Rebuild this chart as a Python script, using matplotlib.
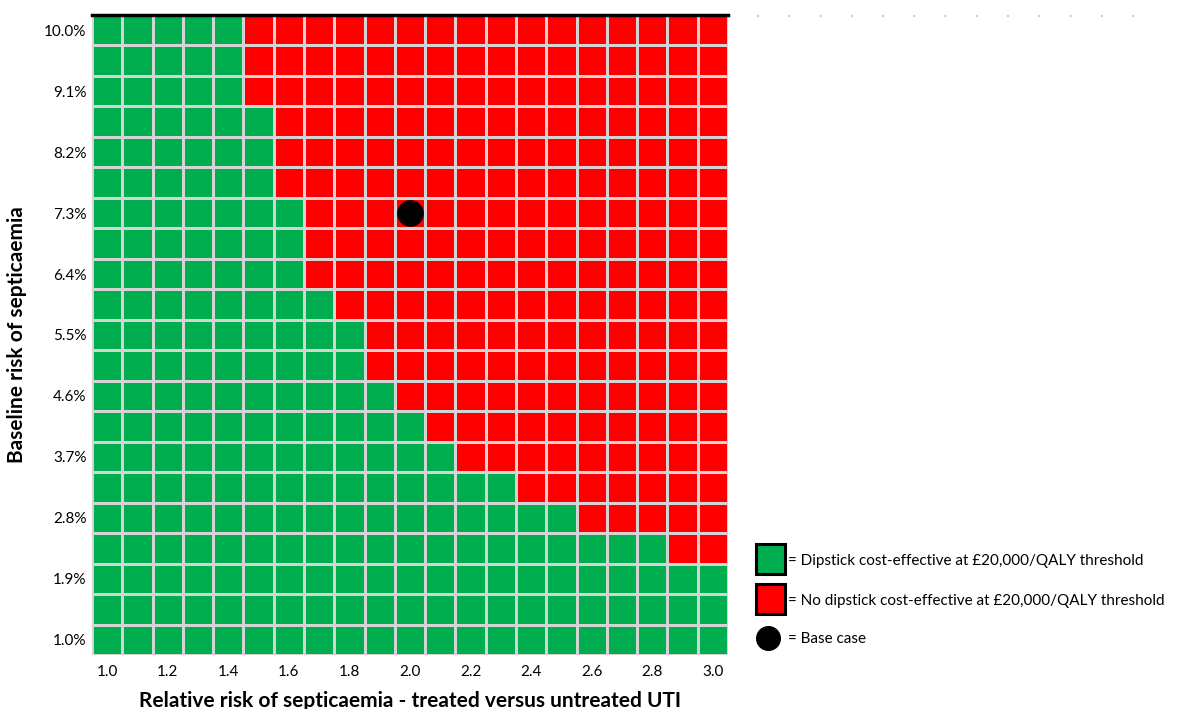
import numpy as np
import matplotlib.pyplot as plt
from matplotlib.colors import ListedColormap
from matplotlib.lines import Line2D
from matplotlib.patches import Rectangle

plt.rcParams['font.family'] = ['Lato', 'DejaVu Sans']

# relative risk (x) and baseline risk in % (y)
rel_risk = [1.0, 1.1, 1.2, 1.3, 1.4, 1.5, 1.6, 1.7, 1.8, 1.9, 2.0,
            2.1, 2.2, 2.3, 2.4, 2.5, 2.6, 2.7, 2.8, 2.9, 3.0]
base_risk = [1.0, 1.45, 1.9, 2.35, 2.8, 3.25, 3.7, 4.15, 4.6, 5.05, 5.5,
             5.95, 6.4, 6.85, 7.3, 7.75, 8.2, 8.65, 9.1, 9.55, 10.0]
# relative risk from which "no dipstick" becomes cost-effective (None = never)
switch_rr = [None, None, None, 2.9, 2.6, 2.4, 2.2, 2.1, 2.0, 1.9, 1.9,
             1.8, 1.7, 1.7, 1.7, 1.6, 1.6, 1.6, 1.5, 1.5, 1.5]
base_case = (2.0, 7.3)

x_ticks = [1.0, 1.2, 1.4, 1.6, 1.8, 2.0, 2.2, 2.4, 2.6, 2.8, 3.0]
y_tick_labels = ['1.0%', '1.9%', '2.8%', '3.7%', '4.6%', '5.5%',
                 '6.4%', '7.3%', '8.2%', '9.1%', '10.0%']

green = '#00ad4f'
red = '#ff0000'

# build the grid: 0 = dipstick (green), 1 = no dipstick (red)
grid = np.zeros((len(base_risk), len(rel_risk)))
for i, s in enumerate(switch_rr):
    if s is None:
        continue
    for j, rr in enumerate(rel_risk):
        if rr >= s - 1e-9:
            grid[i, j] = 1

fig = plt.figure(figsize=(11.81, 7.09), dpi=100)
ax = fig.add_axes([92 / 1181, 54 / 709, 636 / 1181, 640 / 709])

x_edges = np.arange(len(rel_risk) + 1) - 0.5
y_edges = np.arange(len(base_risk) + 1) - 0.5
ax.pcolormesh(x_edges, y_edges, grid, cmap=ListedColormap([green, red]),
              vmin=0, vmax=1, edgecolors='#d4d4d4', linewidth=0.9)

bx = rel_risk.index(base_case[0])
by = base_risk.index(base_case[1])
ax.scatter([bx], [by], s=330, color='black', zorder=5)

ax.set_xlim(-0.5, len(rel_risk) - 0.5)
ax.set_ylim(-0.5, len(base_risk) - 0.5)
ax.set_xticks([rel_risk.index(v) for v in x_ticks])
ax.set_xticklabels([f'{v:.1f}' for v in x_ticks], fontsize=11)
ax.set_yticks(range(0, len(base_risk), 2))
ax.set_yticklabels(y_tick_labels, fontsize=11)
ax.tick_params(length=0, pad=4)
ax.tick_params(axis='x', pad=7)

for side in ['left', 'right', 'bottom']:
    ax.spines[side].set_visible(False)
ax.spines['top'].set_linewidth(2.5)
ax.spines['top'].set_color('black')

ax.set_xlabel('Relative risk of septicaemia - treated versus untreated UTI',
              fontsize=15, fontweight='bold', labelpad=9)
ax.set_ylabel('Baseline risk of septicaemia', fontsize=15, fontweight='bold',
              labelpad=12)

# legend drawn by hand in figure pixels
def px(x, y):
    return x / 1181, 1 - y / 709

for top, col, txt in [(544, green, '= Dipstick cost-effective at £20,000/QALY threshold'),
                      (584, red, '= No dipstick cost-effective at £20,000/QALY threshold')]:
    x0, y0 = px(756, top + 30)
    fig.add_artist(Rectangle((x0, y0), 29 / 1181, 30 / 709, facecolor=col,
                             edgecolor='black', linewidth=2.2,
                             transform=fig.transFigure))
    tx, ty = px(788, top + 17)
    fig.text(tx, ty, txt, fontsize=11, va='center', ha='left')

cx, cy = px(768, 638)
fig.add_artist(Line2D([cx], [cy], marker='o', markersize=17, color='black',
                      transform=fig.transFigure))
tx, ty = px(788, 639)
fig.text(tx, ty, '= Base case', fontsize=11, va='center', ha='left')

# faint dotted line top right
x1, y1 = px(757, 16)
x2, _ = px(1160, 16)
fig.add_artist(Line2D([x1, x2], [y1, y1], color='#c8c8c8', linewidth=1.5,
                      linestyle=(0, (1, 14)), transform=fig.transFigure))

fig.savefig('out.png', dpi=100)
